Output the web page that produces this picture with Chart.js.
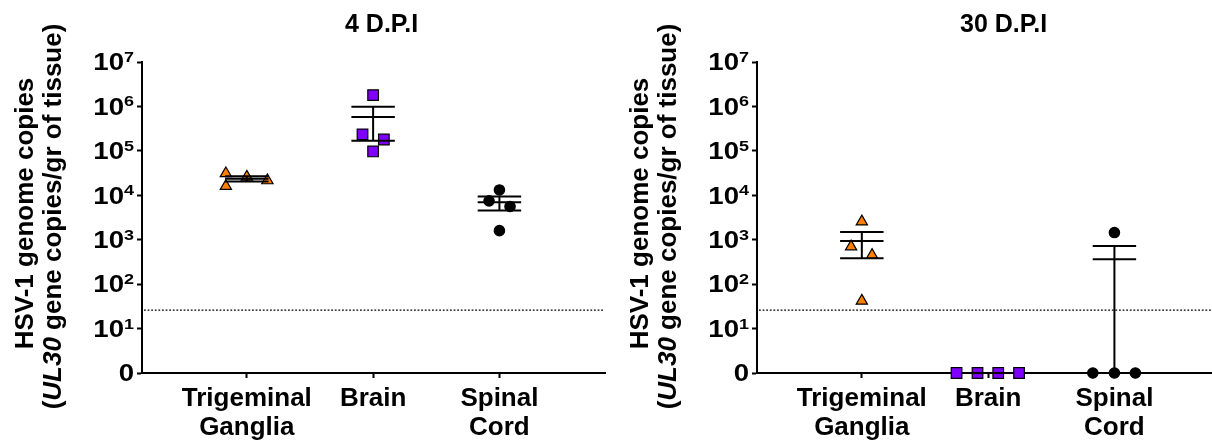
<!DOCTYPE html>
<html>
<head>
<meta charset="utf-8">
<script src="https://cdn.jsdelivr.net/npm/chart.js@4.4.0/dist/chart.umd.min.js"></script>
<style>
  html, body { margin: 0; padding: 0; background: #fff; }
  body { width: 1212px; height: 444px; overflow: hidden; position: relative; }
  canvas { position: absolute; top: 0; }
  #dpi4 { left: 0; }
  #dpi30 { left: 615px; }
</style>
</head>
<body>
<canvas id="dpi4" width="615" height="444"></canvas>
<canvas id="dpi30" width="615" height="444"></canvas>
<script>
const categories = [['Trigeminal', 'Ganglia'], ['Brain'], ['Spinal', 'Cord']];
const yExponents = [0, 1, 2, 3, 4, 5, 6, 7];
const detectionLimit = 26;

// 4 D.P.I
const tg4 = [31000, 16000, 26000, 21500];
const brain4 = [1800000, 235000, 180000, 97000];
const spinal4 = [13200, 7500, 5600, 1600];
const spread4 = [[-0.166, -0.166, 0, 0.163], [0, -0.084, 0.085, 0], [0, -0.082, 0.084, 0]];

// 30 D.P.I
const tg30 = [2550, 700, 450, 42];
const brain30 = [0, 0, 0, 0];
const spinal30 = [1450, 0, 0, 0];
const spread30 = [[0, -0.085, 0.081, 0], [-0.25, -0.084, 0.08, 0.245], [0, -0.171, 0, 0.166]];

const groupColors = ['#ff8000', '#8000ff', '#000000'];
const pointStyles = ['triangle', 'rect', 'circle'];
const pointRadii = [6.5, 7.5, 5.2];

const family = '"Liberation Sans", Arial, sans-serif';
Chart.defaults.font.family = family;
Chart.defaults.color = '#000';

const stats = (vals) => {
  const n = vals.length;
  const mean = vals.reduce((a, b) => a + b, 0) / n;
  const sd = Math.sqrt(vals.reduce((a, b) => a + (b - mean) ** 2, 0) / (n - 1));
  return { mean: mean, sem: sd / Math.sqrt(n) };
};

const decorations = {
  id: 'decorations',
  beforeDatasetsDraw(chart) {
    const { ctx, chartArea: area, scales: { y } } = chart;
    const yl = y.getPixelForValue(detectionLimit);
    ctx.save();
    ctx.strokeStyle = '#000';
    ctx.lineWidth = 1.3;
    ctx.setLineDash([1.8, 1.8]);
    ctx.beginPath();
    ctx.moveTo(area.left + 2, yl);
    ctx.lineTo(area.right - 2, yl);
    ctx.stroke();
    ctx.restore();
  },
  afterDatasetsDraw(chart, args, opts) {
    const { ctx, scales: { x, y } } = chart;
    const py = (v) => y.getPixelForValue(Math.max(v, 1));
    ctx.save();
    ctx.strokeStyle = '#000';
    ctx.lineWidth = 2;
    opts.groups.forEach((vals, i) => {
      const s = stats(vals);
      const cx = x.getPixelForValue(i + 1);
      const l = x.getPixelForValue(i + 1 - 0.172);
      const r = x.getPixelForValue(i + 1 + 0.172);
      const yTop = py(s.mean + s.sem), yMid = py(s.mean), yBot = py(s.mean - s.sem);
      ctx.beginPath();
      [yTop, yMid, yBot].forEach(yy => { ctx.moveTo(l, yy); ctx.lineTo(r, yy); });
      ctx.moveTo(cx, yTop);
      ctx.lineTo(cx, yBot);
      ctx.stroke();
    });
    ctx.restore();
  },
  afterDraw(chart, args, opts) {
    const { ctx, chartArea: area, scales: { y } } = chart;
    ctx.save();
    ctx.fillStyle = '#000';

    // panel title
    ctx.font = 'bold 25px ' + family;
    ctx.textAlign = 'left';
    ctx.textBaseline = 'alphabetic';
    ctx.fillText(opts.title, area.left + 203, 31.5);

    // y tick labels: 0, 10^1 ... 10^7
    yExponents.forEach(k => {
      const ty = y.getPixelForValue(10 ** k);
      ctx.save();
      ctx.translate(area.left - 8, ty);
      ctx.scale(1.2, 1);
      ctx.textAlign = 'right';
      if (k === 0) {
        ctx.font = 'bold 23px ' + family;
        ctx.fillText('0', 0, 8.3);
      } else {
        ctx.font = 'bold 15px ' + family;
        const ew = ctx.measureText(String(k)).width;
        ctx.fillText(String(k), 0, 0);
        ctx.font = 'bold 23px ' + family;
        ctx.fillText('10', -ew, 8.3);
      }
      ctx.restore();
    });

    // y axis title, two rotated lines, UL30 in italic
    const yc = (area.top + area.bottom) / 2;
    const bold = 'bold 26px ' + family;
    const italic = 'italic bold 26px ' + family;
    ctx.textAlign = 'left';
    ctx.save();
    ctx.translate(33, yc - 4);
    ctx.rotate(-Math.PI / 2);
    ctx.font = bold;
    const line1 = 'HSV-1 genome copies';
    ctx.fillText(line1, -ctx.measureText(line1).width / 2, 0);
    ctx.restore();

    const parts = [['(', bold], ['UL30', italic], [' gene copies/gr of tissue)', bold]];
    let total = 0;
    parts.forEach(p => { ctx.font = p[1]; total += ctx.measureText(p[0]).width; });
    ctx.save();
    ctx.translate(61, yc - 1);
    ctx.rotate(-Math.PI / 2);
    let pos = -total / 2;
    parts.forEach(p => {
      ctx.font = p[1];
      ctx.fillText(p[0], pos, 0);
      pos += ctx.measureText(p[0]).width;
    });
    ctx.restore();
    ctx.restore();
  }
};

const makeChart = (canvasId, title, groups, spreads) => {
  const datasets = groups.map((vals, i) => ({
    label: categories[i].join(' '),
    data: vals.map((v, j) => ({ x: i + 1 + spreads[i][j], y: Math.max(v, 1) })),
    pointStyle: pointStyles[i],
    pointRadius: pointRadii[i],
    backgroundColor: groupColors[i],
    borderColor: '#000',
    borderWidth: 1.2,
    clip: false
  }));

  return new Chart(document.getElementById(canvasId), {
    type: 'scatter',
    data: { datasets: datasets },
    options: {
      responsive: false,
      animation: false,
      events: [],
      layout: {
        padding: { top: 62, left: 0, right: 10, bottom: 0 }
      },
      plugins: {
        legend: { display: false },
        tooltip: { enabled: false },
        decorations: { title: title, groups: groups }
      },
      scales: {
        x: {
          type: 'linear',
          min: 0.17,
          max: 3.836,
          afterBuildTicks: (axis) => {
            axis.ticks = [1, 2, 3].map(v => ({ value: v }));
          },
          afterFit: (scale) => { scale.height = 71; },
          ticks: {
            autoSkip: false,
            maxRotation: 0,
            padding: 6,
            color: '#000',
            font: { size: 26, weight: 'bold', lineHeight: 1.13 },
            callback: (value) => categories[Math.round(value) - 1]
          },
          grid: {
            drawOnChartArea: false,
            drawTicks: true,
            tickLength: 5,
            tickWidth: 2,
            tickColor: '#000'
          },
          border: { display: true, color: '#000', width: 2 }
        },
        y: {
          type: 'logarithmic',
          min: 1,
          max: 1e7,
          afterBuildTicks: (axis) => {
            axis.ticks = yExponents.map(k => ({ value: 10 ** k, major: true }));
          },
          afterFit: (scale) => { scale.width = 142; },
          ticks: { display: false },
          grid: {
            drawOnChartArea: false,
            drawTicks: true,
            tickLength: 5,
            tickWidth: 2,
            tickColor: '#000'
          },
          border: { display: true, color: '#000', width: 2 }
        }
      }
    },
    plugins: [decorations]
  });
};

makeChart('dpi4', '4 D.P.I', [tg4, brain4, spinal4], spread4);
makeChart('dpi30', '30 D.P.I', [tg30, brain30, spinal30], spread30);
</script>
</body>
</html>
